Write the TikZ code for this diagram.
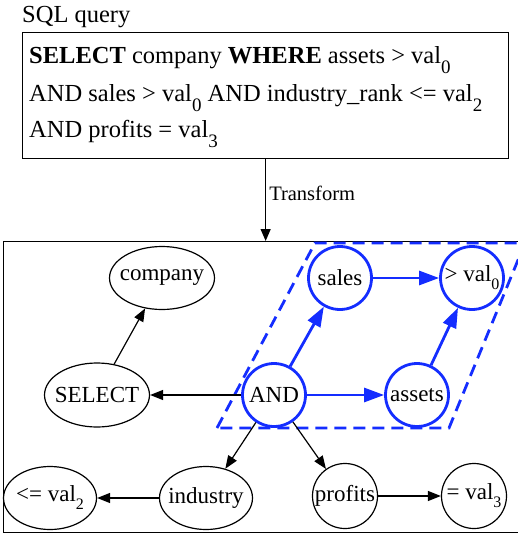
\documentclass[tikz,border=0pt]{standalone}
\usepackage{fontspec}
\setmainfont{LiberationSerif}[Extension=.ttf, UprightFont=*-Regular, BoldFont=*-Bold, ItalicFont=*-Italic, BoldItalicFont=*-BoldItalic]
\usetikzlibrary{arrows.meta}
\usetikzlibrary{shapes.geometric}
\definecolor{treeblue}{RGB}{20,45,255}
\newcommand{\qsub}[1]{\raisebox{-10pt}{\fontsize{19}{19}\selectfont #1}}
\newcommand{\nsub}[1]{\raisebox{-8pt}{\fontsize{16}{16}\selectfont #1}}
\newcommand{\tight}[1]{\makebox[0pt]{#1}}
\newcommand{\qfont}{\fontsize{24.5}{36}\selectfont}
\newcommand{\nfont}{\fontsize{23}{27}\selectfont}

\tikzset{
	qline/.style={anchor=base west, inner sep=0pt, font=\qfont},
	word/.style={ellipse, draw, line width=1.2pt, inner sep=0pt, font=\nfont},
	wordc/.style={circle, draw, line width=1.2pt, inner sep=0pt, minimum size=65pt, font=\nfont},
	hit/.style={circle, draw=treeblue, line width=2.8pt, inner sep=0pt, minimum size=63pt, font=\nfont},
	link/.style={-{Triangle[length=13pt, width=10pt]}, line width=1.2pt},
	bluelink/.style={-{Triangle[length=20pt, width=14pt]}, draw=treeblue, line width=2.8pt},
}

\begin{document}
\begin{tikzpicture}[x=1pt, y=-1pt]
	\clip (0,0) rectangle (518,533);
	% query box
	\node[qline] (title) at (22,22) {SQL query};
	\node[draw, line width=1.3pt, anchor=north west, minimum width=486pt, minimum height=126pt] (query) at (22,32) {};
	\node[qline] (q1) at (29,63.5) {\textbf{SELECT} company \textbf{WHERE} assets > val\qsub{0}};
	\node[qline] (q2) at (29,101.5) {AND sales > val\qsub{0} AND industry\_rank <= val\qsub{2}};
	\node[qline] (q3) at (29,137) {AND profits = val\qsub{3}};
	% graph frame
	\node[draw, line width=1.3pt, anchor=north west, minimum width=540pt, minimum height=291pt] (frame) at (3,241) {};
	\draw[-{Triangle[length=12pt, width=10pt]}, line width=1.2pt] (query.south) -- (query.south |- frame.north)
		node[pos=0.42, right, inner sep=3pt, font=\fontsize{20.5}{24}\selectfont] (tf) {Transform};
	% matched part
	\draw[treeblue, line width=2.8pt, dash pattern=on 12pt off 7pt] (217,428) -- (315,243) -- (525,243) -- (449,428) -- cycle;
	% nodes
	\node[word, minimum width=105pt, minimum height=63pt] (company) at (162,278) {\tight{company}};
	\node[word, minimum width=105pt, minimum height=64pt] (select) at (97,395) {\tight{SELECT}};
	\node[word, minimum width=93pt, minimum height=63pt] (industry) at (206,498) {\tight{industry}};
	\node[word, minimum width=93pt, minimum height=63pt] (leval) at (50,498) {\tight{<= val\nsub{2}}};
	\node[wordc] (profits) at (345,496) {\tight{profits}};
	\node[wordc] (eqval) at (474,496) {\tight{= val\nsub{3}}};
	\node[hit] (and) at (274,395) {\tight{AND}};
	\node[hit] (sales) at (340,278) {\tight{sales}};
	\node[hit] (gtval) at (472,278) {\tight{> val\nsub{0}}};
	\node[hit] (assets) at (417,395) {\tight{assets}};
	% edges
	\draw[link] (select) -- (company);
	\draw[link] (and) -- (select);
	\draw[link] (and) -- (industry);
	\draw[link] (and) -- (profits);
	\draw[link] (industry) -- (leval);
	\draw[link] (profits) -- (eqval);
	\draw[bluelink] (and) -- (sales);
	\draw[bluelink] (and) -- (assets);
	\draw[bluelink] (sales) -- (gtval);
	\draw[bluelink] (assets) -- (gtval);
\end{tikzpicture}
\end{document}
